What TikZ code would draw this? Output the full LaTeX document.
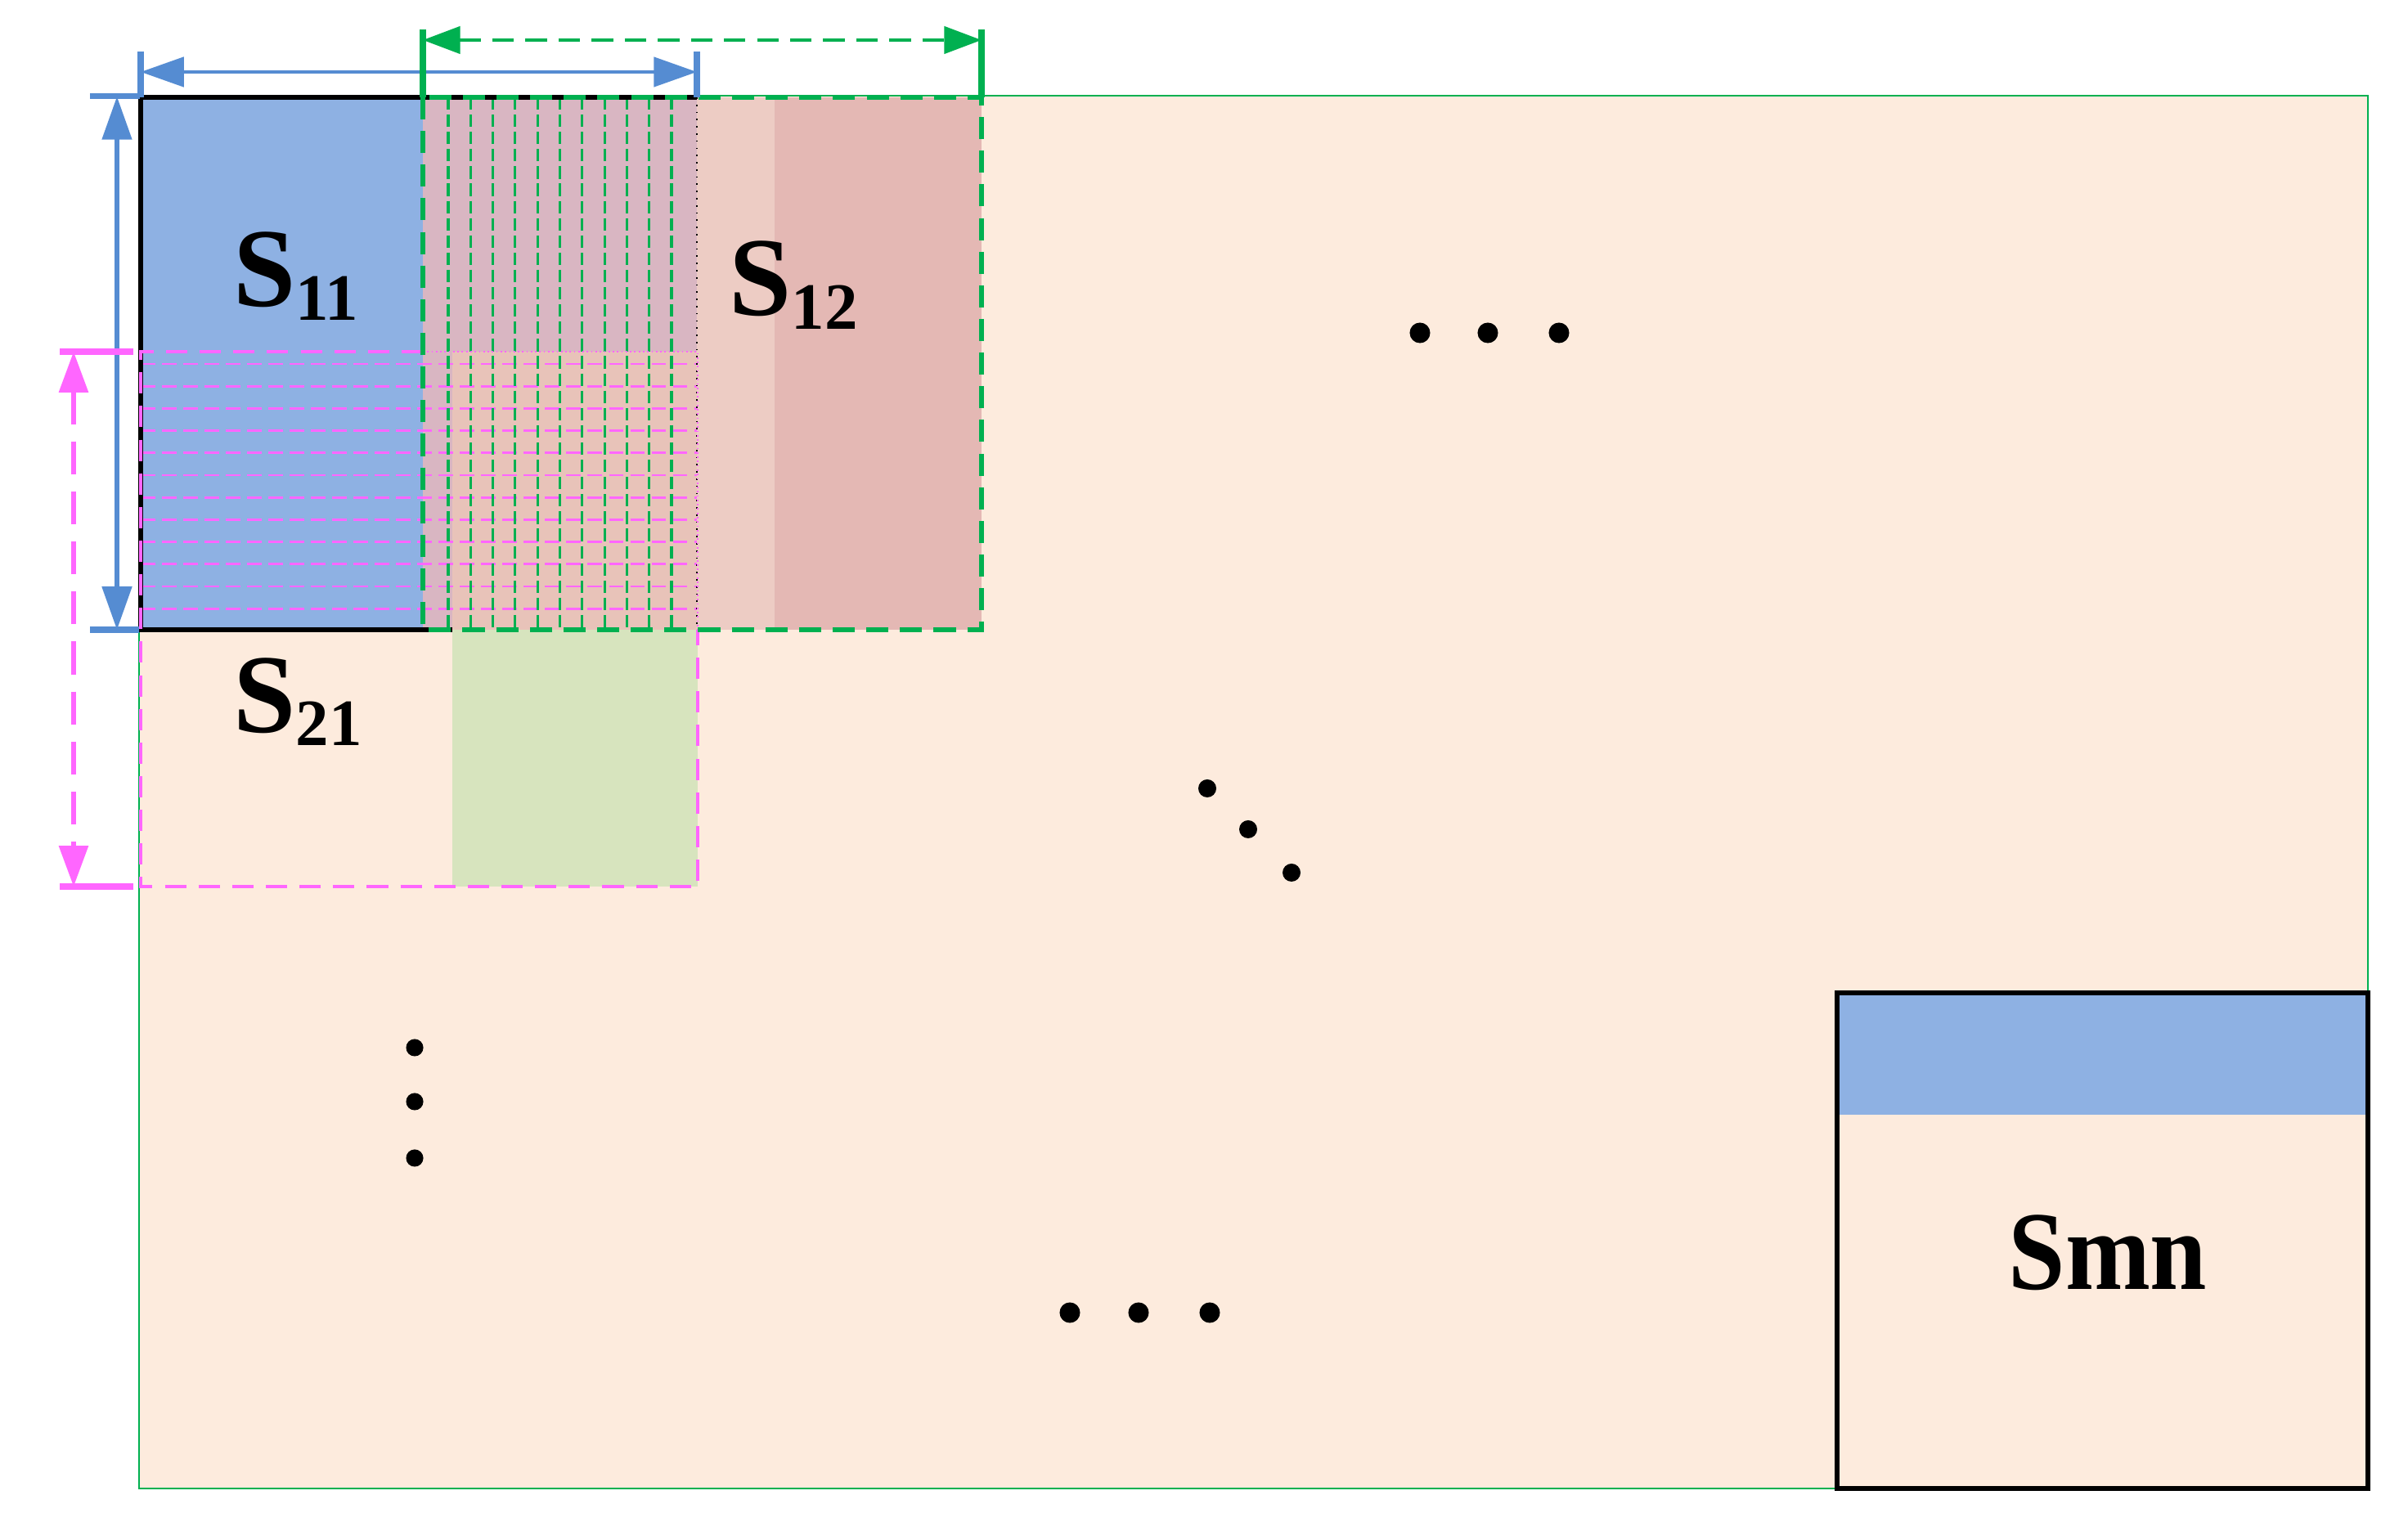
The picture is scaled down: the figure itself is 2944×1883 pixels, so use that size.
\documentclass[tikz,border=0pt]{standalone}
\usepackage{fontspec}
\setmainfont{Liberation Serif}
\usetikzlibrary{arrows.meta}
\definecolor{cpeach}{HTML}{FDEBDD}
\definecolor{cblue}{HTML}{8EB1E3}
\definecolor{cmauve}{HTML}{D9B6C2}
\definecolor{cpp}{HTML}{E8C3B9}
\definecolor{clp}{HTML}{EDCCC4}
\definecolor{cpink}{HTML}{E4B8B4}
\definecolor{cgf}{HTML}{D7E4BE}
\definecolor{greenc}{HTML}{00B050}
\definecolor{magc}{HTML}{FF66FF}
\definecolor{bluec}{HTML}{558CD2}
\newcommand{\subf}{\fontsize{23}{23}\selectfont}
\tikzset{
  lbl/.style={inner sep=0pt, font=\fontsize{39}{40}\selectfont\bfseries},
  maginner/.style={draw=magc, line width=0.8pt, dash pattern=on 5pt off 2.4pt},
  greeninner/.style={draw=greenc, line width=0.9pt, dash pattern=on 4.3pt off 1.7pt},
  greenborder/.style={draw=greenc, line width=1.5pt, dash pattern=on 7.7pt off 4pt},
  magborder/.style={draw=magc, line width=1.4pt, dash pattern=on 7.4pt off 4.3pt},
  tickline/.style={line width=2pt},
  dotc/.style={fill=black},
}
\begin{document}
\begin{tikzpicture}[x=0.01cm,y=-0.01cm]
\useasboundingbox (0,0) rectangle (2944,1883);
% main area
\draw[greenc, line width=0.75pt, fill=cpeach] (170,117) rectangle (2895,1820);
% fills
\fill[cblue] (172,119) rectangle (517,770);
\fill[cmauve] (517,119) rectangle (852,430);
\fill[cmauve] (517,430) rectangle (553,770);
\fill[cpp] (553,430) rectangle (852,770);
\fill[clp] (852,119) rectangle (947,770);
\fill[cpink] (947,119) rectangle (1200,770);
\fill[cgf] (553,770) rectangle (853,1084);
% magenta inner lines
\foreach \i in {0,...,11} \draw[maginner] (172,445+27.2*\i) -- (852,445+27.2*\i);
% green inner lines
\foreach \i in {0,...,10} \draw[greeninner] (548+27.3*\i,119) -- (548+27.3*\i,770);
% S11 border
\draw[black, line width=1.8pt] (852,119) -- (172,119) -- (172,770) -- (553,770);
\draw[black, line width=0.5pt, dotted] (852,119) -- (852,770);
% S21 border
\draw[magborder] (517,430) -- (172,430) -- (172,1084) -- (853,1084) -- (853,770);
\draw[magc, line width=0.5pt, densely dotted] (517,430) -- (853,430) -- (853,770);
% S12 border
\draw[greenborder] (517,119) rectangle (1200,770);
% Smn
\fill[cblue] (2246,1214) rectangle (2895,1363);
\draw[black, line width=1.8pt] (2246,1214) rectangle (2895,1820);
% blue horizontal arrow
\coordinate (bhL) at (172,88);
\coordinate (bhR) at (852,88);
\draw[bluec, line width=1.4pt, {Triangle[length=15pt,width=10.2pt]}-{Triangle[length=15pt,width=10.2pt]}] (bhL) -- (bhR);
\draw[bluec, tickline] (172,63) -- (172,119);
\draw[bluec, tickline] (852,63) -- (852,119);
% blue vertical arrow
\coordinate (bvT) at (143,118);
\coordinate (bvB) at (143,770);
\draw[bluec, line width=1.5pt, {Triangle[length=15pt,width=10.2pt]}-{Triangle[length=15pt,width=10.2pt]}] (bvT) -- (bvB);
\draw[bluec, tickline] (110,118) -- (171,118);
\draw[bluec, tickline] (110,770) -- (170,770);
% green arrow
\coordinate (gL) at (517,49);
\coordinate (gR) at (1200,49);
\draw[greenc, line width=1.3pt, dash pattern=on 7.5pt off 4pt, {Triangle[length=13pt,width=9.4pt]}-{Triangle[length=13pt,width=9.4pt]}] (gL) -- (gR);
\draw[greenc, tickline] (517,36) -- (517,119);
\draw[greenc, tickline] (1200,36) -- (1200,119);
% magenta arrow
\coordinate (mT) at (90,430);
\coordinate (mB) at (90,1084);
\draw[magc, line width=1.6pt, dash pattern=on 11.4pt off 6pt, {Triangle[length=14.2pt,width=10pt]}-{Triangle[length=14.2pt,width=10pt]}] (mT) -- (mB);
\draw[magc, tickline] (73,430) -- (163,430);
\draw[magc, tickline] (73,1084) -- (163,1084);
% labels
\node[lbl, anchor=base west] (s11) at (285,375) {S\raisebox{-4.8pt}{\subf 11}};
\node[lbl, anchor=base west] (s12) at (891,386) {S\raisebox{-4.6pt}{\subf 12}};
\node[lbl, anchor=base west] (s21) at (285,896) {S\raisebox{-4.3pt}{\subf 21}};
\node[lbl, anchor=base, xscale=0.91] (smn) at (2577,1577) {Smn};
% dots
\foreach \x in {1736,1819,1906} \fill[dotc] (\x,407) circle[radius=3.56pt];
\fill[dotc] (1476,964) circle[radius=3.13pt];
\fill[dotc] (1526,1014) circle[radius=3.13pt];
\fill[dotc] (1579,1067) circle[radius=3.13pt];
\foreach \y in {1281,1347,1416} \fill[dotc] (507,\y) circle[radius=3pt];
\foreach \x in {1308,1392,1479} \fill[dotc] (\x,1605) circle[radius=3.56pt];
\end{tikzpicture}
\end{document}
